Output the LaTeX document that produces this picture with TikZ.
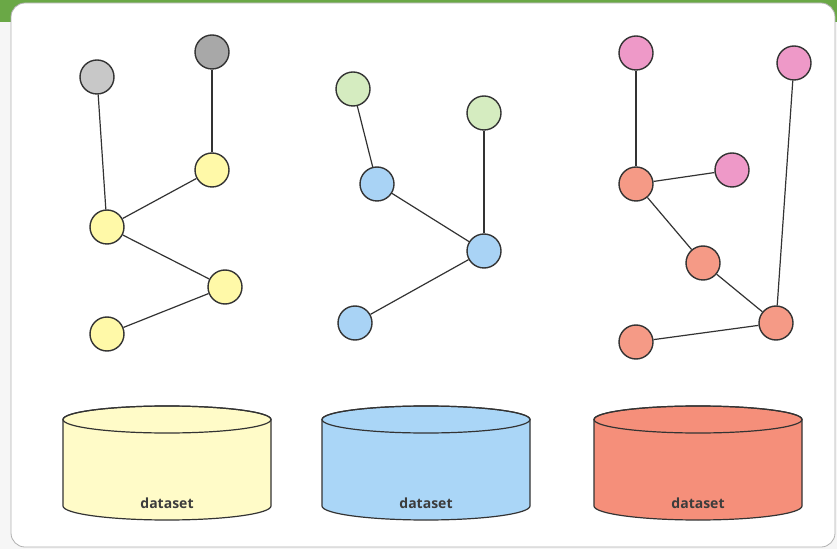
\documentclass[tikz,border=0pt]{standalone}
\usepackage{fontspec}
\setsansfont{Open Sans}
\usepackage{xcolor}
\usetikzlibrary{positioning}

\begin{document}
\begin{tikzpicture}[x=1pt,y=1pt,
  vertex/.style={circle,draw=edgeColor,line width=1.4pt,minimum size=34pt,inner sep=0pt},
  link/.style={draw=edgeColor,line width=1.2pt},
  dslabel/.style={font=\sffamily\bfseries\fontsize{14}{16}\selectfont,text=textColor,inner sep=0pt}]
\definecolor{bgColor}{RGB}{246,246,246}
\definecolor{barColor}{RGB}{106,168,70}
\definecolor{frameColor}{RGB}{176,176,176}
\definecolor{edgeColor}{RGB}{51,51,51}
\definecolor{textColor}{RGB}{60,60,60}
\definecolor{greyLight}{RGB}{200,200,200}
\definecolor{greyDark}{RGB}{168,168,168}
\definecolor{nodeYellow}{RGB}{255,249,168}
\definecolor{nodeGreen}{RGB}{213,236,192}
\definecolor{nodeBlue}{RGB}{169,211,245}
\definecolor{nodePink}{RGB}{238,153,200}
\definecolor{nodeSalmon}{RGB}{245,154,134}
\definecolor{cylYellow}{RGB}{255,251,200}
\definecolor{cylBlue}{RGB}{170,214,247}
\definecolor{cylRed}{RGB}{245,143,122}
\path[use as bounding box,fill=bgColor] (0,0) rectangle (837,549);
\path[fill=barColor] (0,527) rectangle (837,549);
\path[draw=frameColor,fill=white,line width=0.8pt,rounded corners=14pt] (11,2) rectangle (835,546);

% first graph
\node[vertex,fill=greyLight] (g1) at (97,472) {};
\node[vertex,fill=greyDark] (g2) at (212,497) {};
\node[vertex,fill=nodeYellow] (y1) at (212,379) {};
\node[vertex,fill=nodeYellow] (y2) at (107,322) {};
\node[vertex,fill=nodeYellow] (y3) at (225,262) {};
\node[vertex,fill=nodeYellow] (y4) at (107,215) {};

\draw[link] (g1) -- (y2);
\draw[link] (g2) -- (y1);
\draw[link] (y1) -- (y2);
\draw[link] (y2) -- (y3);
\draw[link] (y3) -- (y4);

% second graph
\node[vertex,fill=nodeGreen] (gr1) at (353,460) {};
\node[vertex,fill=nodeGreen] (gr2) at (484,436) {};
\node[vertex,fill=nodeBlue] (b1) at (377,365) {};
\node[vertex,fill=nodeBlue] (b2) at (484,298) {};
\node[vertex,fill=nodeBlue] (b3) at (355,226) {};

\draw[link] (gr1) -- (b1);
\draw[link] (gr2) -- (b2);
\draw[link] (b1) -- (b2);
\draw[link] (b2) -- (b3);

% third graph
\node[vertex,fill=nodePink] (p1) at (636,496) {};
\node[vertex,fill=nodePink] (p2) at (794,486) {};
\node[vertex,fill=nodePink] (p3) at (732,379) {};
\node[vertex,fill=nodeSalmon] (s1) at (636,365) {};
\node[vertex,fill=nodeSalmon] (s2) at (703,286) {};
\node[vertex,fill=nodeSalmon] (s3) at (776,226) {};
\node[vertex,fill=nodeSalmon] (s4) at (636,207) {};

\draw[link] (p1) -- (s1);
\draw[link] (s1) -- (p3);
\draw[link] (s1) -- (s2);
\draw[link] (s2) -- (s3);
\draw[link] (p2) -- (s3);
\draw[link] (s3) -- (s4);

% datasets
\foreach \xa/\fc/\nm in {63/cylYellow/dsA, 322/cylBlue/dsB, 594/cylRed/dsC}{
  \path[draw=edgeColor,fill=\fc,line width=1.2pt,line join=round] (\xa,129.5) -- (\xa,43)
    arc[start angle=180,end angle=360,x radius=104,y radius=14] -- (\xa+208,129.5)
    arc[start angle=0,end angle=180,x radius=104,y radius=13.5] -- cycle;
  \path[draw=edgeColor,line width=1.2pt] (\xa+104,129.5) ellipse[x radius=104,y radius=13.5];
  \node[dslabel,anchor=base] (\nm) at (\xa+104,41) {dataset};
}
\end{tikzpicture}
\end{document}
